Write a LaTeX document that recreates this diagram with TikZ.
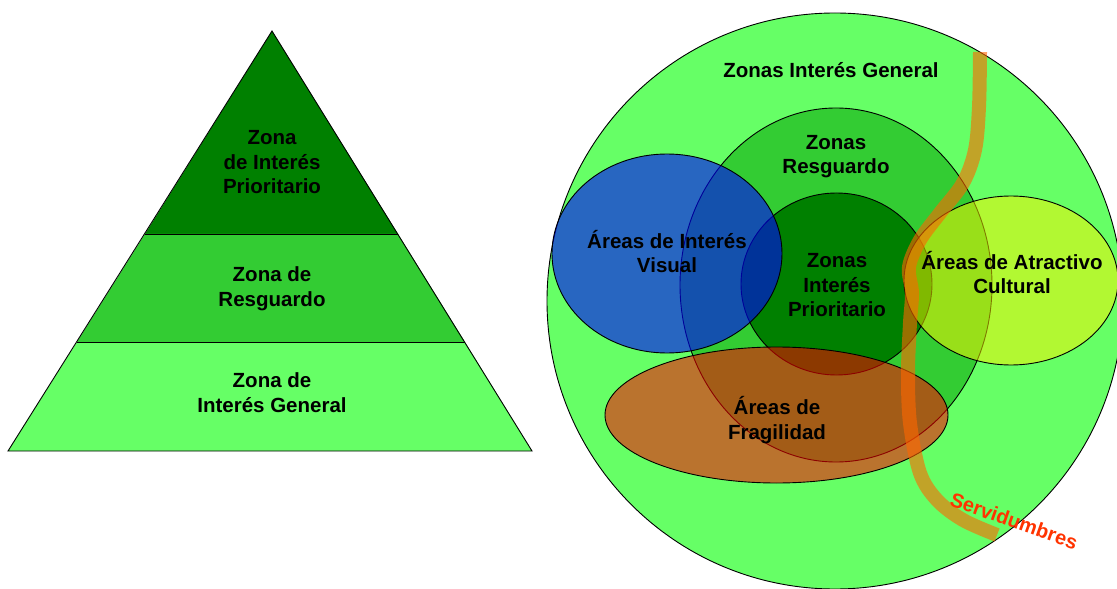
\documentclass[tikz,border=0pt]{standalone}
\usepackage{fontspec}
\setmainfont{Liberation Sans}
\definecolor{gdark}{HTML}{008000}
\definecolor{gmid}{HTML}{33CC33}
\definecolor{glight}{HTML}{66FF66}
\definecolor{servred}{HTML}{FF3300}
\definecolor{bandorange}{HTML}{FF6600}
\begin{document}
\begin{tikzpicture}[x=1bp,y=-1bp,
  lbl/.style={font=\bfseries\fontsize{20.5bp}{24.5bp}\selectfont, align=center, inner sep=0pt, anchor=base},
  edge/.style={draw=black, line width=0.9bp},
  layer/.style={edge, fill=#1}]
\useasboundingbox (0,0) rectangle (1117,589);
\clip (0,0) rectangle (1117,589);
% ---------------- pyramid ----------------
\coordinate (apex) at (272,31);
\coordinate (bl) at (8,451);
\coordinate (br) at (532,451);
\coordinate (l1) at (145,234);
\coordinate (r1) at (398,234);
\coordinate (l2) at (77,342);
\coordinate (r2) at (465,342);
\path[fill=gdark] (apex) -- (l1) -- (r1) -- cycle;
\path[fill=gmid] (l1) -- (r1) -- (r2) -- (l2) -- cycle;
\path[fill=glight] (l2) -- (r2) -- (br) -- (bl) -- cycle;
\draw[edge] (apex) -- (br) -- (bl) -- cycle;
\draw[edge] (l1) -- (r1);
\draw[edge] (l2) -- (r2);
\node[lbl] (ptop) at (272,194) {Zona\\de Interés\\Prioritario};
\node[lbl] (pmid) at (272,306.5) {Zona de\\Resguardo};
\node[lbl] (pbot) at (272,412) {Zona de\\Interés General};
% ---------------- circles ----------------
\coordinate (cgen) at (835,301);
\coordinate (cres) at (836,285);
\coordinate (cpri) at (836.5,284);
\coordinate (cvis) at (667,253.5);
\coordinate (ccul) at (1011,280.5);
\coordinate (cfra) at (776.5,415);
\draw[layer=glight] (cgen) circle [radius=288];
\draw[layer=gmid] (cres) ellipse [x radius=156, y radius=177];
\draw[layer=gdark] (cpri) ellipse [x radius=95.5, y radius=91];
\draw[edge, fill=blue, fill opacity=0.6] (cvis) ellipse [x radius=115, y radius=99.5];
\draw[edge, fill=yellow, fill opacity=0.5] (ccul) ellipse [x radius=107, y radius=84.5];
\draw[edge, fill=red, fill opacity=0.55] (cfra) ellipse [x radius=171.5, y radius=68];
% servidumbres band
\draw[bandorange, opacity=0.6, line width=14bp, line cap=butt]
  plot[smooth, tension=0.55] coordinates {(980,52) (979,107) (975,150) (963,183) (940,213) (920,240) (909,267) (912,293) (910,323) (908,373) (910,423) (920,473) (937,500) (963,520) (997,535)};
% labels
\node[lbl] (tgen) at (831,78) {Zonas Interés General};
\node[lbl] (tres) at (836,174) {Zonas\\Resguardo};
\node[lbl] (tvis) at (667,273) {Áreas de Interés\\Visual};
\node[lbl] (tpri) at (837,317) {Zonas\\Interés\\Prioritario};
\node[lbl] (tcul) at (1012,294) {Áreas de Atractivo\\Cultural};
\node[lbl] (tfra) at (777,439) {Áreas de\\Fragilidad};
\node[lbl, anchor=center, text=servred, font=\bfseries\fontsize{20bp}{22bp}\selectfont, rotate=-19.5] (tser) at (1014,521) {Servidumbres};
\end{tikzpicture}
\end{document}
